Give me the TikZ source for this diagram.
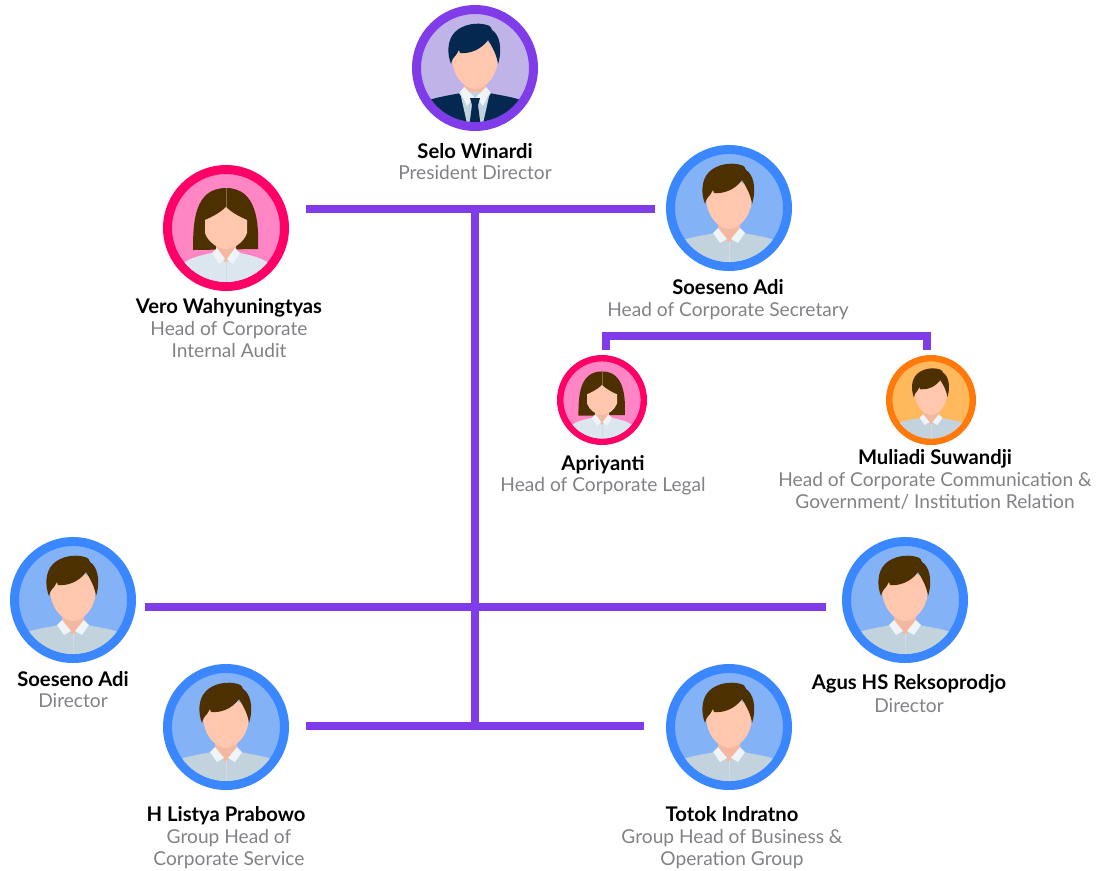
\documentclass[tikz,border=0pt]{standalone}
\usepackage{fontspec}
\setmainfont{Lato}
\usepackage{xcolor}
\definecolor{linkpurple}{HTML}{7F3CE8}
\definecolor{purplebg}{HTML}{C0B3E8}
\definecolor{pinkring}{HTML}{FF0066}
\definecolor{pinkbg}{HTML}{FF85C4}
\definecolor{bluering}{HTML}{3B87FF}
\definecolor{bluebg}{HTML}{84B2F7}
\definecolor{orangering}{HTML}{FF7A0A}
\definecolor{orangebg}{HTML}{FFB95C}
\definecolor{navy}{HTML}{04284F}
\definecolor{brownhair}{HTML}{4D3000}
\definecolor{skin}{HTML}{FFC7AE}
\definecolor{neck}{HTML}{F4B8A0}
\definecolor{shirtblue}{HTML}{C2D3DE}
\definecolor{shirtpale}{HTML}{DBE6EF}
\definecolor{collarwhite}{HTML}{EEF4F8}
\definecolor{rolegrey}{HTML}{808285}
\tikzset{
  person/.style 2 args={circle,draw=#1,fill=#2,line width=.18cm,minimum size=2.34cm},
  smallperson/.style 2 args={person={#1}{#2},line width=.128cm,minimum size=1.672cm},
  personname/.style={anchor=base,inner sep=0pt,font=\fontsize{11.5}{12.5}\selectfont\bfseries},
  personrole/.style={anchor=north,inner sep=0pt,align=center,text=rolegrey,font=\fontsize{10.9}{12.5}\selectfont},
  link/.style={draw=linkpurple,line width=.16cm},
  pics/man/.style 2 args={code={
    \begin{scope}
      \clip (0,0) circle [radius=54];
      \fill[#2] (-46,32) .. controls (-30,27) and (-15,26) .. (-12,24) -- (12,24) .. controls (15,26) and (30,27) .. (46,32) -- (46,60) -- (-46,60) -- cycle;
      \fill[neck] (-11,12) -- (11,12) -- (11,24) -- (0,35) -- (-11,24) -- cycle;
      \fill[collarwhite] (-16,25) -- (-11,20) -- (-2,31) -- (-9,35) -- cycle;
      \fill[collarwhite] (16,25) -- (11,20) -- (2,31) -- (9,35) -- cycle;
      \draw[black!15,line width=.01cm] (0,33) -- (0,56);
      \fill[skin] (-23,-14) .. controls (-24,8) and (-10,21) .. (0,21) .. controls (10,21) and (24,8) .. (23,-14) .. controls (22,-32) and (-22,-32) .. (-23,-14) -- cycle;
      \fill[#1] (-24,-4) .. controls (-28,-14) and (-28,-28) .. (-20,-36) .. controls (-12,-44) and (2,-46) .. (12,-43) .. controls (16,-42) and (16,-40) .. (17,-38) .. controls (24,-34) and (28,-20) .. (23,-4) .. controls (22,-12) and (18,-20) .. (13,-28) .. controls (6,-18) and (-6,-14) .. (-15,-15) -- (-16,-18) -- (-19,-13) .. controls (-22,-10) and (-23,-8) .. (-24,-4) -- cycle;
    \end{scope}
  }},
  pics/suit/.style={code={
    \begin{scope}
      \clip (0,0) circle [radius=54];
      \fill[shirtblue] (-15,24) -- (15,24) -- (7,60) -- (-7,60) -- cycle;
      \fill[collarwhite] (-15,24) -- (-11,19) -- (-1,29) -- (-8,38) -- cycle;
      \fill[collarwhite] (15,24) -- (11,19) -- (1,29) -- (8,38) -- cycle;
      \fill[navy] (-5,30) -- (5,30) -- (3,37) -- (6,60) -- (-6,60) -- (-3,37) -- cycle;
    \end{scope}
  }},
  pics/woman/.style={code={
    \begin{scope}
      \clip (0,0) circle [radius=54];
      \fill[brownhair] (-33,22) .. controls (-33,-5) and (-32,-40) .. (0,-40) .. controls (31,-40) and (33,-5) .. (32,21) -- cycle;
      \draw[brownhair!70!white,line width=.01cm] (0,-40) -- (0,-21);
      \fill[shirtpale] (-41,34) .. controls (-30,27) and (-15,26) .. (-12,24) -- (12,24) .. controls (15,26) and (30,27) .. (41,34) -- (46,60) -- (-46,60) -- cycle;
      \fill[neck] (-10,12) -- (10,12) -- (10,24) -- (0,35) -- (-10,24) -- cycle;
      \fill[collarwhite] (-14,25) -- (-9,20) -- (-1,31) -- (-7,36) -- cycle;
      \fill[collarwhite] (14,25) -- (9,20) -- (1,31) -- (7,36) -- cycle;
      \draw[black!15,line width=.01cm] (0,33) -- (0,56);
      \fill[skin] (0,-21) .. controls (-6,-15) and (-14,-11) .. (-21,-8) -- (-21,5) .. controls (-18,14) and (-8,21) .. (0,21) .. controls (8,21) and (18,14) .. (21,5) -- (21,-8) .. controls (14,-11) and (6,-15) .. (0,-21) -- cycle;
    \end{scope}
  }},
}
\begin{document}
\begin{tikzpicture}[x=0.02cm,y=-0.02cm]
  \useasboundingbox (0,0) rectangle (1097,870);

  % people
  \node[person={linkpurple}{purplebg}] (selo) at (475,68) {};
  \pic at (selo) {man={navy}{navy}};
  \pic at (selo) {suit};
  \node[person={pinkring}{pinkbg}] (vero) at (226,228) {};
  \pic at (vero) {woman};
  \node[person={bluering}{bluebg}] (secretary) at (729,208) {};
  \pic at (secretary) {man={brownhair}{shirtblue}};
  \node[smallperson={pinkring}{pinkbg}] (apriyanti) at (602,400) {};
  \pic[scale=.714] at (apriyanti) {woman};
  \node[smallperson={orangering}{orangebg}] (muliadi) at (931,400) {};
  \pic[scale=.714] at (muliadi) {man={brownhair}{shirtblue}};
  \node[person={bluering}{bluebg}] (director) at (73,600) {};
  \pic at (director) {man={brownhair}{shirtblue}};
  \node[person={bluering}{bluebg}] (agus) at (905,600) {};
  \pic at (agus) {man={brownhair}{shirtblue}};
  \node[person={bluering}{bluebg}] (listya) at (226,727) {};
  \pic at (listya) {man={brownhair}{shirtblue}};
  \node[person={bluering}{bluebg}] (totok) at (729,727) {};
  \pic at (totok) {man={brownhair}{shirtblue}};

  % names
  \node[personname] (seloname) at (475,158) {Selo Winardi};
  \node[personrole] (selorole) at (475,165) {President Director};
  \node[personname] (veroname) at (229,313) {Vero Wahyuningtyas};
  \node[personrole] (verorole) at (229,321) {Head of Corporate\\Internal Audit};
  \node[personname] (secretaryname) at (728,294) {Soeseno Adi};
  \node[personrole] (secretaryrole) at (728,302) {Head of Corporate Secretary};
  \node[personname] (apriyantiname) at (603,470) {Apriyanti};
  \node[personrole] (apriyantirole) at (603,477) {Head of Corporate Legal};
  \node[personname] (muliadiname) at (935,464) {Muliadi Suwandji};
  \node[personrole] (muliadirole) at (935,472) {Head of Corporate Communication \&\\Government/ Institution Relation};
  \node[personname] (directorname) at (73,686) {Soeseno Adi};
  \node[personrole] (directorrole) at (73,693) {Director};
  \node[personname] (agusname) at (909,689) {Agus HS Reksoprodjo};
  \node[personrole] (agusrole) at (909,698) {Director};
  \node[personname] (listyaname) at (226,821) {H Listya Prabowo};
  \node[personrole] (listyarole) at (229,829) {Group Head of\\Corporate Service};
  \node[personname] (totokname) at (732,821) {Totok Indratno};
  \node[personrole] (totokrole) at (732,829) {Group Head of Business \&\\Operation Group};

  % line ends
  \coordinate (veroend) at (306,208.5);
  \coordinate (secretaryend) at (655,208.5);
  \coordinate (directorend) at (145,606.5);
  \coordinate (agusend) at (826,606.5);
  \coordinate (listyaend) at (306,725.5);
  \coordinate (totokend) at (644,725.5);
  \coordinate (apriyantiend) at (606,350);
  \coordinate (muliadiend) at (927,350);

  \draw[link] (veroend) -- (secretaryend);
  \draw[link] (selo |- veroend) -- (selo |- listyaend);
  \draw[link] (directorend) -- (agusend);
  \draw[link] (listyaend) -- (totokend);
  \draw[link] (apriyantiend) -- ++(0,-14.5) -| (muliadiend);
\end{tikzpicture}
\end{document}
